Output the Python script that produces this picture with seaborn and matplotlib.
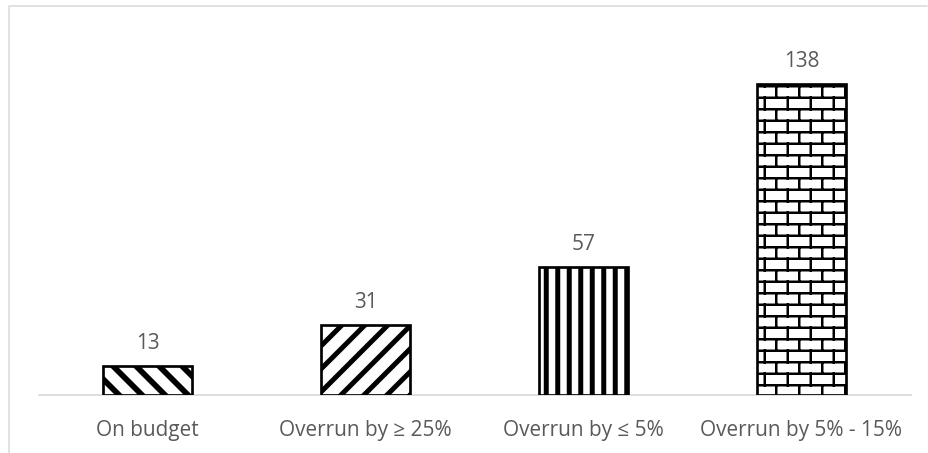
import warnings
import numpy as np
import matplotlib
matplotlib.use("Agg")
import matplotlib.pyplot as plt
import matplotlib.hatch as mhatch
from matplotlib.path import Path
from matplotlib.lines import Line2D
import seaborn as sns

# Budget outcome counts
categories = ["On budget", "Overrun by \u2265 25%", "Overrun by \u2264 5%", "Overrun by 5% - 15%"]
counts = [13, 31, 57, 138]
hatches = ["\\\\", "//", "||", "b"]
hatch_widths = [3.0, 2.6, 2.6, 1.3]


class BrickHatch(mhatch.HatchPatternBase):
    """Staggered brick pattern, selected with the 'b' hatch character."""

    rows = 12
    cols = 6

    def __init__(self, hatch, density):
        self.n = hatch.count("b")
        if self.n:
            # horizontal mortar lines + vertical joints (+1 wrapped row split in two)
            self.num_vertices = 2 * (self.rows + self.rows * self.cols + self.cols)
        else:
            self.num_vertices = 0

    def set_vertices_and_codes(self, vertices, codes):
        segs = []
        ys = (np.arange(self.rows) + 0.5) / self.rows
        for y in ys:
            segs.append(((0.0, y), (1.0, y)))
        for k in range(self.rows):
            shift = 0.25 if k % 2 == 0 else 0.75
            y0 = (k + 0.5) / self.rows
            y1 = min((k + 1.5) / self.rows, 1.0)
            for j in range(self.cols):
                x = (j + shift) / self.cols
                segs.append(((x, y0), (x, y1)))
        # part of the last row that wraps to the bottom of the tile
        shift = 0.75 if (self.rows - 1) % 2 == 1 else 0.25
        for j in range(self.cols):
            x = (j + shift) / self.cols
            segs.append(((x, 0.0), (x, 0.5 / self.rows)))
        pts = np.array(segs).reshape(-1, 2)
        vertices[:] = pts
        codes[0::2] = Path.MOVETO
        codes[1::2] = Path.LINETO


mhatch._hatch_types.append(BrickHatch)
warnings.filterwarnings("ignore")


def use_hatch_width(patch, lw):
    """Draw a patch with its own hatch line width."""
    if hasattr(patch, "set_hatch_linewidth"):
        patch.set_hatch_linewidth(lw)
    patch._hatch_linewidth = lw
    orig_draw = patch.draw

    def draw(renderer):
        with plt.rc_context({"hatch.linewidth": lw}):
            orig_draw(renderer)

    patch.draw = draw


sns.set_theme(style="white")
plt.rcParams["font.family"] = ["Open Sans", "DejaVu Sans"]

W, H, DPI = 928, 453, 138
fig = plt.figure(figsize=(W / DPI, H / DPI), dpi=DPI)
ax = fig.add_axes([38.5 / W, 58 / H, 872 / W, (395 - 34.4) / H])

sns.barplot(x=categories, y=counts, ax=ax, color="white", edgecolor="black",
            linewidth=1.4, width=0.41, saturation=1)

for patch, h, hw in zip(ax.patches, hatches, hatch_widths):
    patch.set_facecolor("white")
    patch.set_hatch(h)
    use_hatch_width(patch, hw)
    patch.set_zorder(3)

for i, v in enumerate(counts):
    ax.annotate(str(v), xy=(i, v), xytext=(0, 8.7), textcoords="offset points",
                ha="center", va="baseline", fontsize=10.8, color="#595959")

ax.set_xlim(-0.5, 3.5)
ax.set_ylim(0, 160)
ax.set_yticks([])
ax.set_xlabel("")
ax.set_ylabel("")
for side in ["top", "right", "left"]:
    ax.spines[side].set_visible(False)
ax.spines["bottom"].set_color("#d9d9d9")
ax.spines["bottom"].set_linewidth(0.9)
ax.spines["bottom"].set_zorder(1)
ax.tick_params(axis="x", length=0, pad=13, labelsize=10.8, labelcolor="#595959")

# outer chart frame (top and left edges)
fx = 9 / W
fy = 1 - 6 / H
fig.add_artist(Line2D([fx, fx, 927 / W], [0, fy, fy], transform=fig.transFigure,
                      color="#d9d9d9", lw=0.8))

fig.savefig("out.png", dpi=DPI)
